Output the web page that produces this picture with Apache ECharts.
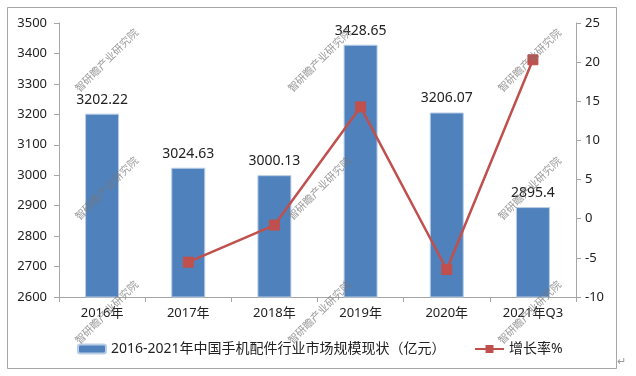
<!DOCTYPE html>
<html><head><meta charset="utf-8">
<script src="https://cdn.jsdelivr.net/npm/echarts@6/dist/echarts.min.js"></script>
<style>html,body{margin:0;padding:0;background:#fff}#c{width:636px;height:376px}</style>
</head><body><div id="c"></div>
<script>
const categories = ['2016年','2017年','2018年','2019年','2020年','2021年Q3'];
const marketSize = [3202.22, 3024.63, 3000.13, 3428.65, 3206.07, 2895.4];
const growthRate = [null, -5.55, -0.81, 14.28, -6.49, 20.3];
const barName = '2016-2021年中国手机配件行业市场规模现状（亿元）';
const lineName = '增长率%';
const wmText = '智研瞻产业研究院';
const wmX = [107, 320, 530];
const wmY = [61, 189, 313];

const FONT = "'Noto Sans', 'Noto Sans CJK SC', sans-serif";
const chart = echarts.init(document.getElementById('c'), null, {renderer:'canvas'});
const graphics = [
  {type:'rect', shape:{x:7.5,y:7.5,width:609,height:361}, style:{fill:'none', stroke:'#a6a6a6', lineWidth:1}, z:-1},
  {type:'text', left:617, top:356, style:{text:'↵', fill:'#999', font:'11px '+FONT}}
];
wmY.forEach(y=>wmX.forEach(x=>{
  graphics.push({type:'text', x:x, y:y, rotation:Math.PI/4, z:100,
    style:{text:wmText, fill:'rgba(120,120,120,0.75)', font:'10.5px '+FONT, align:'center', verticalAlign:'middle'}});
}));
chart.setOption({
  backgroundColor:'#fff',
  animation:false,
  textStyle:{fontFamily:FONT},
  grid:{left:59, right:60, top:23, height:274},
  legend:[
    {data:[barName], left:72, top:337, itemWidth:28, itemHeight:9, textStyle:{fontSize:14, color:'#222', fontFamily:FONT}},
    {data:[lineName], left:469, top:337, itemWidth:29, itemHeight:10, textStyle:{fontSize:14, color:'#222', fontFamily:FONT}}
  ],
  xAxis:{type:'category', data:categories,
    axisLine:{onZero:false, lineStyle:{color:'#a6a6a6'}},
    axisTick:{show:true, length:5, lineStyle:{color:'#a6a6a6'}},
    axisLabel:{fontSize:13, color:'#222', margin:10}},
  yAxis:[
    {type:'value', min:2600, max:3500, interval:100, position:'left',
     axisLine:{show:true, lineStyle:{color:'#a6a6a6'}},
     axisTick:{show:true, length:5, lineStyle:{color:'#a6a6a6'}},
     splitLine:{show:false},
     axisLabel:{fontSize:13, color:'#222', margin:12, formatter:v=>String(v)}},
    {type:'value', min:-10, max:25, interval:5, position:'right',
     axisLine:{show:true, lineStyle:{color:'#a6a6a6'}},
     axisTick:{show:true, length:5, lineStyle:{color:'#a6a6a6'}},
     splitLine:{show:false},
     axisLabel:{fontSize:13, color:'#222', margin:9}}
  ],
  series:[
    {name:barName, type:'bar', data:marketSize, barWidth:34,
     itemStyle:{color:'#4f81bd', borderColor:'#b9cde5', borderWidth:1},
     label:{show:true, position:'top', distance:7, fontSize:14, color:'#222', fontFamily:FONT}},
    {name:lineName, type:'line', yAxisIndex:1, data:growthRate,
     symbol:'rect', symbolSize:10, connectNulls:false,
     lineStyle:{color:'#c0504d', width:2.5},
     itemStyle:{color:'#c0504d', borderColor:'#c0504d'}}
  ],
  graphic:graphics
});
</script></body></html>
